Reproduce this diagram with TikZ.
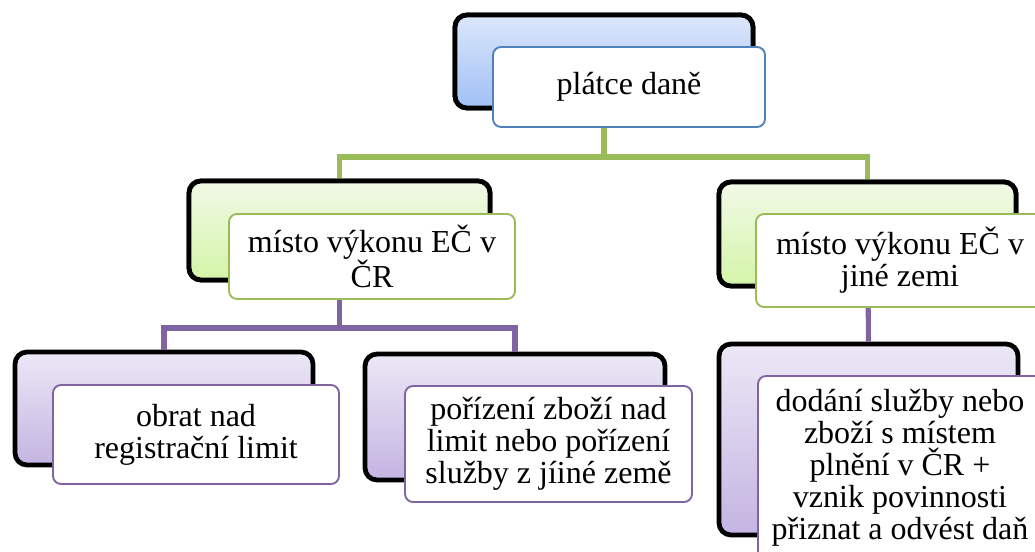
\documentclass[tikz,border=0pt]{standalone}
\usepackage{fontspec}
\setmainfont{Liberation Serif}
\definecolor{gline}{RGB}{155,187,89}
\definecolor{pline}{RGB}{128,100,162}
\definecolor{bline}{RGB}{79,129,189}
\definecolor{btop}{RGB}{220,231,250}
\definecolor{bbot}{RGB}{160,192,246}
\definecolor{gtop}{RGB}{242,250,232}
\definecolor{gbot}{RGB}{212,244,168}
\definecolor{ptop}{RGB}{236,232,246}
\definecolor{pbot}{RGB}{196,180,226}
\begin{document}
\begin{tikzpicture}[x=0.75pt,y=-0.75pt,
  back/.style={draw=black,line width=3.6pt,rounded corners=9pt,inner sep=0pt,anchor=center},
  front/.style={draw=#1,fill=white,line width=1.4pt,rounded corners=6pt,inner sep=0pt,
    align=center,anchor=center,font=\fontsize{24}{24}\selectfont},
  gconn/.style={draw=gline,line width=3.8pt},
  pconn/.style={draw=pline,line width=3.8pt}]
\useasboundingbox (0,0) rectangle (1035,552);
\clip (0,0) rectangle (1035,552);
\fill[white] (0,0) rectangle (1035,552);

% back boxes
\node[back,top color=btop,bottom color=bbot,minimum width=223.5pt,minimum height=69.75pt] (rb) at (604,61.5) {};
\node[back,top color=gtop,bottom color=gbot,minimum width=225.75pt,minimum height=74.25pt] (lb) at (339.5,230.5) {};
\node[back,top color=gtop,bottom color=gbot,minimum width=222.75pt,minimum height=78pt] (mb) at (867.5,234) {};
\node[back,top color=ptop,bottom color=pbot,minimum width=223.5pt,minimum height=84.75pt] (b1b) at (164,408.5) {};
\node[back,top color=ptop,bottom color=pbot,minimum width=225pt,minimum height=94.5pt] (b2b) at (515,417) {};
\node[back,top color=ptop,bottom color=pbot,minimum width=224.25pt,minimum height=143.25pt] (b3b) at (868.5,439.5) {};

% connectors
\coordinate (j1) at (604,157);
\coordinate (j2) at (339.5,328);
\draw[gconn] (rb.center) -- (j1) -| (lb.north);
\draw[gconn] (j1) -| (mb.north);
\draw[pconn] (lb.center) -- (j2) -| (b1b.north);
\draw[pconn] (j2) -| (b2b.north);
\draw[pconn] (mb.center) -- (b3b.north);

% redraw back boxes on top of connector tails
\node[back,top color=btop,bottom color=bbot,minimum width=223.5pt,minimum height=69.75pt] at (604,61.5) {};
\node[back,top color=gtop,bottom color=gbot,minimum width=225.75pt,minimum height=74.25pt] at (339.5,230.5) {};
\node[back,top color=gtop,bottom color=gbot,minimum width=222.75pt,minimum height=78pt] at (867.5,234) {};

% front boxes
\node[front=bline,minimum width=204pt,minimum height=60pt] (r) at (629,87) {plátce daně};
\node[front=gline,minimum width=214.5pt,minimum height=63.75pt] (l) at (372,256.5) {místo výkonu EČ v\\ČR};
\node[front=gline,minimum width=216pt,minimum height=69.75pt] (m) at (900,260.5) {místo výkonu EČ v\\jiné zemi};
\node[front=pline,minimum width=214.5pt,minimum height=74.25pt] (b1) at (196,434.5) {obrat nad\\registrační limit};
\node[front=pline,minimum width=215.25pt,minimum height=87pt] (b2) at (548.5,444) {pořízení zboží nad\\limit nebo pořízení\\služby z jíiné země};
\node[front=pline,minimum width=213pt,minimum height=137.25pt] (b3) at (900,467.5) {dodání služby nebo\\zboží s místem\\plnění v ČR +\\vznik povinnosti\\přiznat a odvést daň};
\end{tikzpicture}
\end{document}
